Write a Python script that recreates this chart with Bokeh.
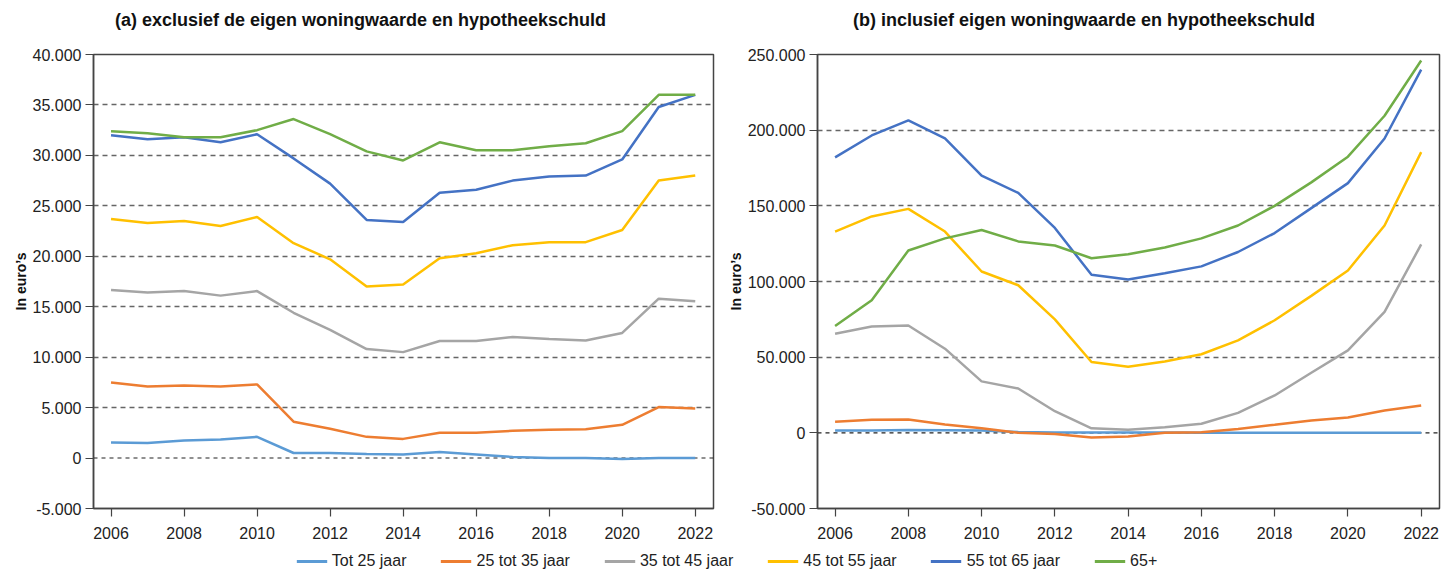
from bokeh.plotting import figure
from bokeh.models import (Range1d, FixedTicker, CustomJSTickFormatter, Span, Label,
                          Legend, LegendItem)
from bokeh.layouts import column, row
from bokeh.embed import file_html
from bokeh.resources import INLINE

years = list(range(2006, 2023))
series_names = ["Tot 25 jaar", "25 tot 35 jaar", "35 tot 45 jaar",
                "45 tot 55 jaar", "55 tot 65 jaar", "65+"]
colors = ["#5B9BD5", "#ED7D31", "#A5A5A5", "#FFC000", "#4472C4", "#70AD47"]

# (a) exclusief de eigen woningwaarde en hypotheekschuld
excl_tot25 = [1550, 1500, 1750, 1850, 2100, 500, 500, 400, 350, 600, 350, 100, 0, 0, -100, 0, 0]
excl_25_35 = [7500, 7100, 7200, 7100, 7300, 3600, 2900, 2100, 1900, 2500, 2500, 2700, 2800, 2850, 3300, 5050, 4900]
excl_35_45 = [16650, 16400, 16550, 16100, 16550, 14400, 12700, 10800, 10500, 11600, 11600, 12000, 11800, 11650, 12400, 15800, 15550]
excl_45_55 = [23700, 23300, 23500, 23000, 23900, 21300, 19700, 17000, 17200, 19800, 20300, 21100, 21400, 21400, 22600, 27500, 28000]
excl_55_65 = [32000, 31600, 31800, 31300, 32100, 29700, 27200, 23600, 23400, 26300, 26600, 27500, 27900, 28000, 29600, 34800, 36000]
excl_65plus = [32400, 32200, 31800, 31800, 32500, 33600, 32100, 30400, 29500, 31300, 30500, 30500, 30900, 31200, 32400, 36000, 36000]

# (b) inclusief eigen woningwaarde en hypotheekschuld
incl_tot25 = [1500, 1500, 1800, 1700, 1600, 500, 300, 200, 200, 200, 100, 100, 0, 0, 0, 0, 0]
incl_25_35 = [7300, 8600, 8800, 5500, 3000, 0, -700, -3100, -2500, 0, 400, 2600, 5300, 8100, 10100, 14800, 18100]
incl_35_45 = [65500, 70200, 70900, 55600, 34000, 29300, 14300, 3000, 2000, 3700, 6000, 13200, 24700, 39700, 54500, 79900, 124500]
incl_45_55 = [133000, 143000, 148000, 133000, 106600, 97500, 75000, 46800, 43700, 47200, 51900, 61100, 74400, 90500, 107300, 137000, 185500]
incl_55_65 = [182000, 196500, 206500, 194500, 170000, 158500, 135400, 104400, 101300, 105500, 110000, 119500, 132000, 148500, 165000, 194500, 240000]
incl_65plus = [70600, 87600, 120500, 128500, 134000, 126500, 123800, 115400, 118000, 122500, 128500, 137000, 150000, 165500, 182500, 209500, 246000]

excl_series = [excl_tot25, excl_25_35, excl_35_45, excl_45_55, excl_55_65, excl_65plus]
incl_series = [incl_tot25, incl_25_35, incl_35_45, incl_45_55, incl_55_65, incl_65plus]

x_ticks = [2006, 2008, 2010, 2012, 2014, 2016, 2018, 2020, 2022]
excl_y_ticks = [-5000, 0, 5000, 10000, 15000, 20000, 25000, 30000, 35000, 40000]
incl_y_ticks = [-50000, 0, 50000, 100000, 150000, 200000, 250000]

titles = ["(a) exclusief de eigen woningwaarde en hypotheekschuld",
          "(b) inclusief eigen woningwaarde en hypotheekschuld"]

FONT = "Liberation Sans"
W_LEFT, W_RIGHT = 724, 729
H_TITLE, H_MAIN, H_LEG = 38, 510, 25

fmt = CustomJSTickFormatter(code="""
const s = Math.abs(tick).toFixed(0).replace(/\\B(?=(\\d{3})+(?!\\d))/g, ".");
return (tick < 0 ? "-" : "") + s;
""")


def make_title(text, width, x_off):
    t = figure(width=width, height=H_TITLE, toolbar_location=None, output_backend="svg",
               x_range=Range1d(0, 1), y_range=Range1d(0, 1),
               x_axis_location=None, y_axis_location=None, min_border=0)
    t.outline_line_color = None
    t.grid.visible = False
    t.add_layout(Label(x=0.5, y=0.5, x_offset=x_off, text=text, text_font=FONT,
                       text_font_style="bold", text_font_size="18px",
                       text_color="#111111", text_align="center",
                       text_baseline="middle"))
    return t


def make_panel(series, y_ticks, width, mb_left, mb_right):
    p = figure(width=width, height=H_MAIN, toolbar_location=None, output_backend="svg",
               x_range=Range1d(2005.52, 2022.5),
               y_range=Range1d(y_ticks[0], y_ticks[-1]),
               min_border_left=mb_left, min_border_right=mb_right,
               min_border_top=16, min_border_bottom=40)
    p.outline_line_color = "#444444"
    p.outline_line_width = 1.5

    for vals, c in zip(series, colors):
        p.line(years, vals, line_color=c, line_width=2.5)

    p.xaxis.ticker = FixedTicker(ticks=x_ticks)
    p.yaxis.ticker = FixedTicker(ticks=y_ticks)
    p.yaxis.formatter = fmt
    for ax in (p.xaxis, p.yaxis):
        ax.axis_line_color = "#444444"
        ax.axis_line_width = 1.5
        ax.major_tick_line_color = "#444444"
        ax.major_tick_line_width = 1.2
        ax.major_tick_in = 0
        ax.major_tick_out = 8
        ax.minor_tick_line_color = None
        ax.major_label_text_font = FONT
        ax.major_label_text_font_size = "16px"
        ax.major_label_text_color = "#222222"
    p.xaxis.major_label_standoff = 10
    p.yaxis.major_label_standoff = 4
    p.yaxis.axis_label = "In euro\u2019s"
    p.yaxis.axis_label_text_font = FONT
    p.yaxis.axis_label_text_font_style = "bold"
    p.yaxis.axis_label_text_font_size = "14px"
    p.yaxis.axis_label_text_color = "#111111"
    p.yaxis.axis_label_standoff = 1

    p.xgrid.visible = False
    p.ygrid.ticker = FixedTicker(ticks=[t for t in y_ticks if t not in (0, y_ticks[0], y_ticks[-1])])
    p.ygrid.grid_line_color = "#666666"
    p.ygrid.grid_line_dash = "5 4"
    p.ygrid.grid_line_width = 1.3

    zero = Span(location=0, dimension="width", line_color="#222222",
                line_dash="4 4", line_width=1.1, level="underlay")
    p.add_layout(zero)
    return p


t1 = make_title(titles[0], W_LEFT, -2)
t2 = make_title(titles[1], W_RIGHT, -5)
p1 = make_panel(excl_series, excl_y_ticks, W_LEFT, 93, 11)
p2 = make_panel(incl_series, incl_y_ticks, W_RIGHT, 89, 14)

leg = figure(width=W_LEFT + W_RIGHT, height=H_LEG, toolbar_location=None, output_backend="svg",
             x_range=Range1d(0, 1), y_range=Range1d(0, 1),
             x_axis_location=None, y_axis_location=None, min_border=0)
leg.outline_line_color = None
leg.grid.visible = False
items = []
for name, vals, c in zip(series_names, excl_series, colors):
    # real series drawn outside this strip's ranges; only the legend is visible
    r = leg.line(years, vals, line_color=c, line_width=3)
    items.append(LegendItem(label=name, renderers=[r]))
legend = Legend(items=items, orientation="horizontal", location="center",
                glyph_width=31, glyph_height=16, label_standoff=5, spacing=34,
                padding=0, margin=0, border_line_color=None, background_fill_alpha=0,
                label_text_font=FONT, label_text_font_size="16px",
                label_text_color="#222222")
leg.add_layout(legend, "center")

layout = column(row(t1, t2), row(p1, p2), leg)
open("out.html", "w").write(file_html(layout, INLINE))
